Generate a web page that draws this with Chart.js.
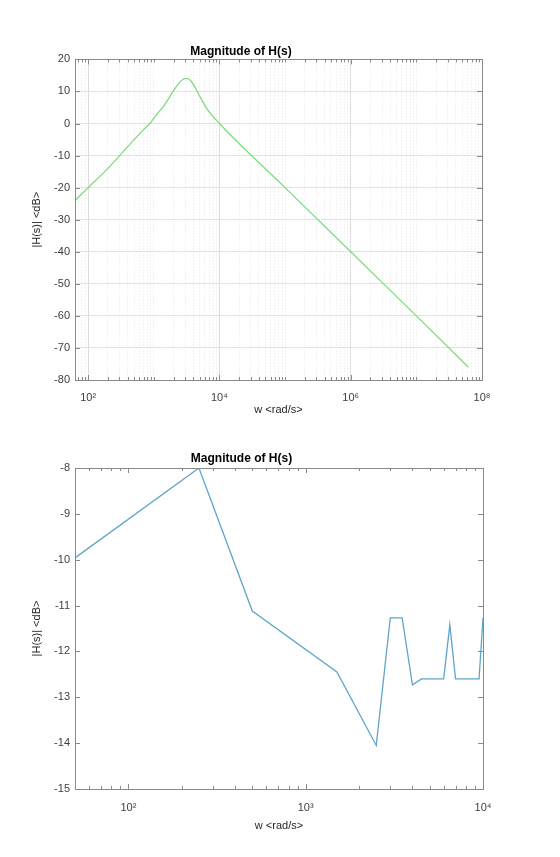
<!DOCTYPE html>
<html>
<head>
<meta charset="utf-8">
<script src="https://cdn.jsdelivr.net/npm/chart.js@4.4.1/dist/chart.umd.min.js"></script>
<style>
	body { margin: 0; background: #ffffff; }
	#wrap { position: relative; width: 560px; height: 857px; }
	#topChart { position: absolute; left: 0; top: 0; }
	#bottomChart { position: absolute; left: 0; top: 430px; }
</style>
</head>
<body>
<div id="wrap">
	<canvas id="topChart" width="560" height="430"></canvas>
	<canvas id="bottomChart" width="560" height="427"></canvas>
</div>
<script>
// Top plot data
const topW = [63, 100, 200, 400, 700, 870, 1100, 1400, 1800, 2200, 2600, 3000, 3300, 3700, 4200, 5000, 6500, 10000, 1e5, 1e6, 1e7, 6.2e7];
const topDb = [-24, -20, -14, -7.2, -1.9, 0, 2.8, 5.3, 8.8, 11.5, 13.3, 14, 14, 13.2, 11.5, 8.5, 4.5, 0, -20, -40, -60, -76];
const topXTicks = [1e2, 1e4, 1e6, 1e8];
const topXTickLabels = ["10²", "10⁴", "10⁶", "10⁸"];

// Bottom plot data
const bottomW = [50, 250, 500, 1500, 2500, 3000, 3500, 4000, 4500, 6000, 6500, 7000, 9500, 10000];
const bottomDb = [-9.96, -8.0, -11.12, -12.45, -14.05, -11.27, -11.27, -12.73, -12.6, -12.6, -11.42, -12.6, -12.6, -11.27];
const bottomXTicks = [1e2, 1e3, 1e4];
const bottomXTickLabels = ["10²", "10³", "10⁴"];

const fontFamily = "'Liberation Sans', Arial, sans-serif";
const axisColor = "#8a8a8a";
const textColor = "#404040";

// make log ticks 1..9 x 10^n, majors are the labelled ones
function logTicks(scale, majors) {
	let ticks = [];
	let start = Math.floor(Math.log10(scale.min));
	let end = Math.ceil(Math.log10(scale.max));
	for (let p = start; p <= end; p++) {
		for (let m = 1; m < 10; m++) {
			let v = m * Math.pow(10, p);
			if (v >= scale.min * 0.999 && v <= scale.max * 1.001) {
				ticks.push({ value: v, major: majors.includes(v) });
			}
		}
	}
	scale.ticks = ticks;
}

// box round the plot + inward ticks like matlab
const boxPlugin = {
	id: "box",
	afterDraw(chart) {
		const c = chart.ctx;
		const a = chart.chartArea;
		c.save();
		c.strokeStyle = axisColor;
		c.lineWidth = 1;
		c.strokeRect(Math.round(a.left) + 0.5, Math.round(a.top) + 0.5, Math.round(a.right - a.left), Math.round(a.bottom - a.top));
		c.beginPath();
		chart.scales.x.ticks.forEach(function (t) {
			let px = Math.round(chart.scales.x.getPixelForValue(t.value)) + 0.5;
			let len = t.major ? 5 : 3;
			c.moveTo(px, a.bottom);
			c.lineTo(px, a.bottom - len);
			c.moveTo(px, a.top);
			c.lineTo(px, a.top + len);
		});
		chart.scales.y.ticks.forEach(function (t) {
			let py = Math.round(chart.scales.y.getPixelForValue(t.value)) + 0.5;
			c.moveTo(a.left, py);
			c.lineTo(a.left + 5, py);
			c.moveTo(a.right, py);
			c.lineTo(a.right - 5, py);
		});
		c.stroke();
		c.restore();
	},
};

function makeChart(id, opts) {
	let points = opts.w.map(function (w, i) {
		return { x: w, y: opts.db[i] };
	});
	return new Chart(document.getElementById(id).getContext("2d"), {
		type: "line",
		data: {
			datasets: [
				{
					data: points,
					borderColor: opts.color,
					borderWidth: 1.3,
					pointRadius: 0,
					cubicInterpolationMode: opts.smooth ? "monotone" : "default",
					tension: 0,
				},
			],
		},
		options: {
			responsive: false,
			animation: false,
			layout: { padding: { left: 0, right: opts.padRight, top: 0, bottom: 0 } },
			plugins: {
				legend: { display: false },
				tooltip: { enabled: false },
				title: {
					display: true,
					text: "Magnitude of H(s)",
					color: "#000000",
					font: { family: fontFamily, size: 12, weight: "bold" },
					padding: { top: opts.titleTop, bottom: opts.titleBottom },
				},
			},
			scales: {
				x: {
					type: "logarithmic",
					min: opts.xMin,
					max: opts.xMax,
					afterBuildTicks: function (scale) {
						logTicks(scale, opts.xTicks);
					},
					afterFit: function (scale) {
						scale.height = opts.xAxisHeight;
					},
					ticks: {
						autoSkip: false,
						maxRotation: 0,
						padding: opts.xTickPad,
						color: textColor,
						font: { family: fontFamily, size: 11 },
						callback: function (value) {
							let k = opts.xTicks.indexOf(value);
							return k >= 0 ? opts.xLabels[k] : "";
						},
					},
					grid: {
						display: opts.grid,
						drawTicks: false,
						color: function (ctx) {
							return ctx.tick && ctx.tick.major ? "#dcdcdc" : "#e6e6e6";
						},
						lineWidth: 1,
					},
					border: {
						display: false,
						dash: function (ctx) {
							return ctx.tick && !ctx.tick.major ? [1, 2] : [];
						},
					},
					title: {
						display: true,
						text: "w <rad/s>",
						color: "#262626",
						font: { family: fontFamily, size: 11 },
						padding: { top: 0, bottom: opts.xTitlePad },
					},
				},
				y: {
					min: opts.yMin,
					max: opts.yMax,
					afterFit: function (scale) {
						scale.width = 75;
					},
					ticks: {
						stepSize: opts.yStep,
						padding: 5,
						color: textColor,
						font: { family: fontFamily, size: 11 },
					},
					grid: {
						display: opts.grid,
						drawTicks: false,
						color: "#e3e3e3",
					},
					border: { display: false },
					title: {
						display: true,
						text: "|H(s)| <dB>",
						color: "#262626",
						font: { family: fontFamily, size: 11 },
						padding: { top: 30, bottom: 0 },
					},
				},
			},
		},
		plugins: [boxPlugin],
	});
}

// upper plot, grid on
makeChart("topChart", {
	w: topW,
	db: topDb,
	color: "#7fdc7f",
	smooth: true,
	grid: true,
	xMin: 63,
	xMax: 1e8,
	xTicks: topXTicks,
	xLabels: topXTickLabels,
	yMin: -80,
	yMax: 20,
	yStep: 10,
	padRight: 78,
	titleTop: 44,
	titleBottom: 1,
	xAxisHeight: 50,
	xTickPad: 11,
	xTitlePad: 13,
});

// lower plot, no grid
makeChart("bottomChart", {
	w: bottomW,
	db: bottomDb,
	color: "#5fa5cc",
	smooth: false,
	grid: false,
	xMin: 50,
	xMax: 1e4,
	xTicks: bottomXTicks,
	xLabels: bottomXTickLabels,
	yMin: -15,
	yMax: -8,
	yStep: 1,
	padRight: 77,
	titleTop: 21,
	titleBottom: 2.6,
	xAxisHeight: 68,
	xTickPad: 12,
	xTitlePad: 24,
});
</script>
</body>
</html>
